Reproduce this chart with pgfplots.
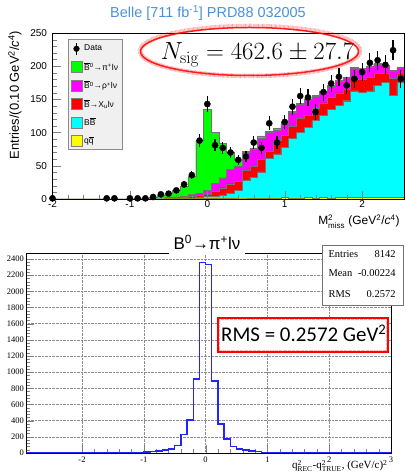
\documentclass[border=0pt]{standalone}
\usepackage[no-math]{fontspec}
\setmainfont{Liberation Sans}
\newfontfamily\timesfont{Liberation Serif}
\newfontfamily\calfont{Carlito}
\usepackage{pgfplots}
\usepackage{pgfplotstable}
\pgfplotsset{compat=1.18}

\definecolor{belleblue}{RGB}{74,144,217}
\definecolor{histblue}{RGB}{35,35,255}
\definecolor{pigreen}{RGB}{0,255,0}
\definecolor{rhomag}{RGB}{255,0,255}
\definecolor{xured}{RGB}{255,0,0}
\definecolor{bbcyan}{RGB}{0,255,255}
\definecolor{qqyellow}{RGB}{255,255,0}

% Stacked MC templates: cumulative heights per bin (left bin edge).
% yel = qqbar, cyan = + BBbar, red = + Xu l nu, mag = + rho l nu, tot = + pi l nu
\pgfplotstableread{
edge  yel  cyan  red  mag  tot
-2.05 0    0     0    0    0
-1.95 0    0     0    0    0
-1.85 0    0     0    0    0
-1.75 0    0     0    0    0
-1.65 0    0     0    0    0
-1.55 0    0     0    0    0
-1.45 0    0     0    0    0
-1.35 0    0     0    0    0
-1.25 0    0     0    0    0
-1.15 0    0     0    0    0
-1.05 0    0     0    0    0.3
-0.95 0    0     0.2  0.3  0.8
-0.85 0    0.1   0.3  0.5  1.5
-0.75 0.1  0.2   0.5  0.8  3
-0.65 0.2  0.4   0.8  1.3  5
-0.55 0.3  0.6   1.2  2    8.5
-0.45 0.4  0.9   1.8  3    13.5
-0.35 0.5  1.3   2.5  4.5  19.5
-0.25 0.6  1.8   3.5  6.5  34
-0.15 0.8  2.5   5    9    88
-0.05 1.0  3.5   7.5  13.5 135
0.05  1.2  4.5   11   24   100
0.15  1.3  6     17   32   84
0.25  1.2  8.5   23   45   70
0.35  1.5  13.5  27   50   58
0.45  1.5  28    43   70   72
0.55  1.2  33    49   75   77
0.65  1.6  41    60   91   95
0.75  1.4  61    72   100  102
0.85  1.5  68    88   104  106
0.95  1.8  78    96   113  115
1.05  1.6  91    110  131  132
1.15  1.5  100   121  143  144
1.25  2.0  108   126  150  151
1.35  1.7  118   136  155  156
1.45  1.8  126   145  162  163
1.55  1.6  135   153  170  171
1.65  2.2  141   160  178  179
1.75  1.9  148   165  183  184
1.85  2.3  163   182  197  198
1.95  1.8  161   180  196  197
2.05  2.0  163   183  199  200
2.15  2.4  171   189  203  204
2.25  1.9  176   190  201  202
2.35  2.1  156   182  193  194
2.45  2.0  176   190  198  199
2.55  2.0  176   190  198  199
}\stacktab

% Data: bin centre, entries, statistical error
\pgfplotstableread{
x     y    e
-2.0  1    1
-1.3  1    1
-1.2  1    1
-1.0  1    1
-0.9  1    1
-0.8  1    1
-0.7  3    1.7
-0.6  7    2.6
-0.5  8    2.8
-0.4  13   3.6
-0.3  22   4.7
-0.2  36   6.0
-0.1  88   9.4
0.0   143  12.0
0.1   81   9.0
0.2   77   8.8
0.3   70   8.4
0.4   59   7.7
0.5   64   8.0
0.6   85   9.2
0.7   77   8.8
0.8   114  10.7
0.9   85   9.2
1.0   116  10.8
1.1   139  11.8
1.2   155  12.4
1.3   153  12.4
1.4   131  11.4
1.5   161  12.7
1.6   174  13.2
1.7   184  13.6
1.8   171  13.1
1.9   181  13.5
2.0   191  13.8
2.1   205  14.3
2.2   209  14.5
2.3   202  14.2
2.4   224  15.0
2.5   181  13.5
}\datatab

% q2 resolution histogram (left bin edge, entries)
\pgfplotstableread{
edge n
-2.9 0
-2.8 1
-2.7 0
-2.6 1
-2.5 1
-2.4 0
-2.3 1
-2.2 1
-2.1 1
-2.0 2
-1.9 1
-1.8 2
-1.7 2
-1.6 3
-1.5 3
-1.4 4
-1.3 5
-1.2 6
-1.1 8
-1.0 10
-0.9 15
-0.8 25
-0.7 37
-0.6 50
-0.5 90
-0.4 230
-0.3 408
-0.2 916
-0.1 2360
0.0  2330
0.1  890
0.2  359
0.3  173
0.4  78
0.5  50
0.6  37
0.7  25
0.8  15
0.9  9
1.0  6
1.1  4
1.2  3
1.3  3
1.4  2
1.5  2
1.6  1
1.7  1
1.8  1
1.9  1
2.0  1
2.1  0
2.2  1
2.3  0
2.4  1
2.5  0
2.6  0
2.7  1
2.8  0
2.9  0
3.0  0
}\qtab

\newcommand{\Bbar}{$\overline{\mbox{B}}$}
\newcommand{\sq}[1]{\draw[fill=#1, draw=black!50] (0bp,-5.5bp) rectangle (11bp,5.5bp);}

\begin{document}
\begin{tikzpicture}[x=1bp,y=1bp]
\useasboundingbox (0,0) rectangle (405,474);

% ---------------- upper panel: M^2_miss fit ----------------
\begin{axis}[
  at={(52.5bp,275bp)}, anchor=south west,
  scale only axis, width=352.2bp, height=166bp,
  xmin=-2, xmax=2.55, ymin=0, ymax=250,
  xtick={-2,-1,0,1,2}, ytick={0,50,...,250},
  minor x tick num=4, minor y tick num=4,
  tick align=inside, tick pos=left,
  major tick length=8bp, minor tick length=4bp,
  ticklabel style={font=\fontsize{10}{12}\selectfont},
  yticklabel style={xshift=-2bp},
  xticklabel style={yshift=2bp},
  /pgf/number format/assume math mode=true,
  /pgf/number format/1000 sep={},
  axis line style={line width=0.6bp},
  axis on top,
  legend style={at={(rel axis cs:0.044,0.964)}, anchor=north west,
    draw=black!45, fill=black!6, line width=0.5bp,
    font=\fontsize{8.5}{10}\selectfont,
    row sep=5.2bp, inner xsep=2.5bp, inner ysep=3bp,
    cells={anchor=west}},
  legend cell align=left,
]
\addlegendimage{legend image code/.code={
  \draw[black, line width=1.1bp] (5.5bp,-6bp) -- (5.5bp,6bp);
  \fill[black] (5.5bp,0bp) circle (2.8bp);}}
\addlegendentry{Data}
\addlegendimage{legend image code/.code={\sq{pigreen}}}
\addlegendentry{\Bbar\textsuperscript{0}→π\textsuperscript{+}lν}
\addlegendimage{legend image code/.code={\sq{rhomag}}}
\addlegendentry{\Bbar\textsuperscript{0}→ρ\textsuperscript{+}lν}
\addlegendimage{legend image code/.code={\sq{xured}}}
\addlegendentry{\Bbar→X\textsubscript{u}lν}
\addlegendimage{legend image code/.code={\sq{bbcyan}}}
\addlegendentry{B\Bbar}
\addlegendimage{legend image code/.code={\sq{qqyellow}}}
\addlegendentry{q$\overline{\mbox{q}}$}

\addplot[const plot mark left, fill=pigreen, draw=black!55, line width=0.4bp, forget plot]
  table[x=edge, y=tot] {\stacktab} \closedcycle;
\addplot[const plot mark left, fill=rhomag, draw=black!55, line width=0.4bp, forget plot]
  table[x=edge, y=mag] {\stacktab} \closedcycle;
\addplot[const plot mark left, fill=xured, draw=black!55, line width=0.4bp, forget plot]
  table[x=edge, y=red] {\stacktab} \closedcycle;
\addplot[const plot mark left, fill=bbcyan, draw=black!55, line width=0.4bp, forget plot]
  table[x=edge, y=cyan] {\stacktab} \closedcycle;
\addplot[const plot mark left, fill=qqyellow, draw=olive, line width=0.6bp, forget plot]
  table[x=edge, y=yel] {\stacktab} \closedcycle;

\addplot[only marks, mark=*, mark size=3.1bp, black, forget plot,
  error bars/.cd, y dir=both, y explicit,
  error bar style={line width=1.2bp}, error mark=none]
  table[x=x, y=y, y error=e] {\datatab};
\end{axis}

% axis titles of the upper panel
\node[rotate=90, font=\fontsize{13}{15}\selectfont] at (15,379)
  {Entries/(0.10 GeV\textsuperscript{2}/\textit{c}\textsuperscript{4})};
\node[anchor=base east, font=\fontsize{12}{14}\selectfont] at (403,249)
  {M$^{\mbox{\fontsize{8}{9}\selectfont 2}}_{\mbox{\fontsize{8}{9}\selectfont miss}}$ (GeV\textsuperscript{2}/\textit{c}\textsuperscript{4})};

% header
\node[font=\fontsize{14.5}{17}\selectfont, text=belleblue] at (208,461)
  {Belle [711 fb\textsuperscript{-1}] PRD88 032005};

% fitted yield, circled
\node[anchor=base, font=\fontsize{23}{26}\selectfont] at (257.5,414)
  {$N_{\mathrm{sig}} = 462.6 \pm 27.7$};
\draw[red, line width=4.5bp, opacity=0.35, dash pattern=on 0.7bp off 0.6bp]
  (250,423) ellipse [x radius=110, y radius=25];
\draw[red, line width=1.5bp, opacity=0.85] (249.5,422.5) ellipse [x radius=109, y radius=24];

% ---------------- lower panel: q^2 resolution ----------------
\begin{axis}[
  at={(26.4bp,21bp)}, anchor=south west,
  scale only axis, width=364.6bp, height=200bp,
  xmin=-2.9, xmax=3, ymin=0, ymax=2474,
  xtick={-2,-1,0,1,2,3}, ytick={0,200,...,2400},
  minor x tick num=4, minor y tick num=4,
  tick align=inside, tick pos=left,
  major tick length=8bp, minor tick length=4bp,
  grid=major, major grid style={densely dotted, black!45, line width=0.5bp},
  ticklabel style={font=\timesfont\fontsize{8.5}{10}\selectfont},
  yticklabel style={xshift=1bp},
  /pgf/number format/assume math mode=true,
  /pgf/number format/1000 sep={},
  scaled ticks=false,
  axis line style={line width=0.6bp},
]
\addplot[const plot mark left, histblue, line width=1.4bp] table[x=edge, y=n] {\qtab};
\end{axis}

% panel title
\node[anchor=base, fill=white, inner xsep=5bp, inner ysep=4bp,
  font=\fontsize{17}{20}\selectfont] at (207,224)
  {B\textsuperscript{0}→π\textsuperscript{+}lν};

% statistics box
\draw[black!55, fill=white, line width=0.7bp] (322,169) rectangle (403,229);
\begin{scope}[every node/.style={font=\timesfont\fontsize{10.5}{12}\selectfont}]
\node[anchor=base west] at (325,216) {Entries};
\node[anchor=base east] at (399,216) {8142};
\node[anchor=base west] at (325,197) {Mean};
\node[anchor=base east] at (399,197) {-0.00224};
\node[anchor=base west] at (325,176) {RMS};
\node[anchor=base east] at (399,176) {0.2572};
\end{scope}

% highlighted resolution
\draw[red, line width=1.6bp, fill=white] (218,122) rectangle (388,156);
\draw[red, line width=3.5bp, opacity=0.3, dash pattern=on 0.7bp off 0.6bp] (218.5,122.5) rectangle (387.5,155.5);
\node[anchor=base west, inner sep=0pt, font=\calfont\fontsize{21}{24}\selectfont] at (221,132.3)
  {RMS = 0.2572 GeV\textsuperscript{2}};

% x title of the lower panel
\node[anchor=base east, font=\timesfont\fontsize{11}{13}\selectfont] at (391,5)
  {q$^{\mbox{\fontsize{7.5}{8}\selectfont 2}}_{\mbox{\fontsize{7.5}{8}\selectfont REC}}$-q$^{\mbox{\fontsize{7.5}{8}\selectfont 2}}_{\mbox{\fontsize{7.5}{8}\selectfont TRUE}}$, (GeV/c)\textsuperscript{2}};
\end{tikzpicture}
\end{document}
